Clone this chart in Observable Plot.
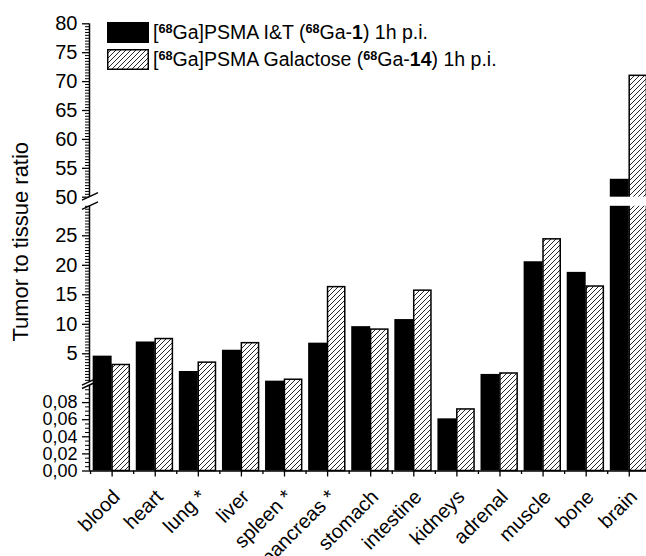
<!DOCTYPE html>
<html><head><meta charset="utf-8">
<script src="https://cdn.jsdelivr.net/npm/d3@7"></script>
<script src="https://cdn.jsdelivr.net/npm/@observablehq/plot@0.6"></script>
<style>
body{margin:0;background:#fff;font-family:"Liberation Sans",Arial,sans-serif;}
#wrap{position:relative;width:646px;height:556px;overflow:hidden;}
#legend{position:absolute;left:107px;top:19px;font-size:19.5px;color:#000;line-height:1;}
.row{display:flex;align-items:center;height:27px;white-space:nowrap;}
.sw{width:42px;height:21px;box-sizing:border-box;margin-right:4px;flex:none;}
sup{font-size:0.65em;font-weight:bold;vertical-align:0.5em;line-height:0}
</style></head><body>
<svg width="0" height="0" style="position:absolute">
<defs><pattern id="hatch" patternUnits="userSpaceOnUse" width="5" height="5"><path d="M-1,1 l2,-2 M0,5 l5,-5 M4,6 l2,-2" stroke="#000" stroke-width="0.85"/></pattern></defs></svg>
<div id="wrap">
</div>
<script>
// ---- data ----
const categories = ["blood","heart","lung *","liver","spleen *","pancreas *","stomach","intestine","kidneys","adrenal","muscle","bone","brain"];
const ga1  = [4.6, 7.0, 2.0, 5.6, 0.36, 6.8, 9.6, 10.8, 0.061, 1.5, 20.6, 18.8, 53.1];
const ga14 = [3.1, 7.5, 3.5, 6.8, 0.6, 16.3, 9.1, 15.7, 0.072, 1.66, 24.4, 16.4, 71.0];
const seriesNames = ["[68Ga]PSMA I&T (68Ga-1) 1h p.i.", "[68Ga]PSMA Galactose (68Ga-14) 1h p.i."];
const yLabelsTop = [50, 55, 60, 65, 70, 75, 80];
const yLabelsMid = [5, 10, 15, 20, 25];
const yLabelsLow = [0, 0.02, 0.04, 0.06, 0.08];
const axisSegments = [{y1: 0, y2: 0.1}, {y1: 0.2, y2: 30}, {y1: 50, y2: 80}];
const breakValues = [0.1, 0.2, 30, 50];
const gapBand = [{y1: 30, y2: 50}];

// ---- scales ----
const xDomain = [-0.525, 12.4];
const yDomain = [0, 0.1, 0.2, 30, 50, 80];
const yRange = [470.5, 385, 381.6, 205.8, 196.7, 23.3];

const minorTop = d3.range(100, 161).map(k => k / 2).filter(v => v % 5 !== 0);
const minorMid = d3.range(1, 61).map(k => k / 2).filter(v => v % 5 !== 0 || v === 30);
const minorLow = d3.range(0, 21).filter(k => k % 4 !== 0).map(k => k * 0.005);

const rows = categories.map((c, i) => ({c, i, a: ga1[i], b: ga14[i]}));
const fmt = v => v < 1 ? v.toFixed(2).replace(".", ",") : String(v);

function breakMarks(index, scales) {
  const g = d3.create("svg:g").attr("stroke", "black").attr("stroke-width", 1.4);
  const x0 = scales.x(xDomain[0]);
  for (const v of breakValues) {
    const y = scales.y(v);
    g.append("line").attr("x1", x0 - 7).attr("y1", y + 3.5).attr("x2", x0 + 9).attr("y2", y - 4);
  }
  return g.node();
}

const chart = Plot.plot({
  width: 646, height: 556,
  marginLeft: 89, marginRight: 0, marginTop: 12, marginBottom: 85.5,
  style: {fontFamily: "'Liberation Sans', Arial, sans-serif", fontSize: "20px", color: "black", background: "white"},
  x: {type: "linear", domain: xDomain, axis: null},
  y: {type: "linear", domain: yDomain, range: yRange, axis: null},
  marks: [
    Plot.rectY(rows, {x1: d => d.i - 0.44, x2: d => d.i, y: "a", fill: "black"}),
    Plot.rectY(rows, {x1: d => d.i + 0.01, x2: d => d.i + 0.41, y: "b", fill: "url(#hatch)", stroke: "black", strokeWidth: 1.5}),
    Plot.rect(gapBand, {x1: xDomain[0] + 0.03, x2: xDomain[1] + 1, y1: "y1", y2: "y2", fill: "white"}),
    Plot.ruleY([0], {strokeWidth: 1.5}),
    Plot.ruleX(axisSegments, {x: () => xDomain[0], y1: "y1", y2: "y2", strokeWidth: 1.5}),
    Plot.axisY({ticks: [...yLabelsTop, ...yLabelsMid], anchor: "left", tickSize: 7, tickPadding: 5, tickFormat: fmt, label: null, strokeWidth: 1.3, fontSize: 20}),
    Plot.axisY({ticks: yLabelsLow, anchor: "left", tickSize: 7, tickPadding: 5, tickFormat: fmt, label: null, strokeWidth: 1.3, fontSize: 18}),
    Plot.axisY({ticks: [...minorTop, ...minorMid, ...minorLow], anchor: "left", tickSize: 4, tickFormat: () => "", label: null, strokeWidth: 1}),
    Plot.axisX({ticks: d3.range(13), anchor: "bottom", tickSize: 6, tickFormat: () => "", label: null, strokeWidth: 1.3}),
    Plot.axisX({ticks: d3.range(-0.5, 12, 1), anchor: "bottom", tickSize: 3.5, tickFormat: () => "", label: null, strokeWidth: 1.3}),
    breakMarks,
    Plot.text(categories, {x: (d, i) => i, frameAnchor: "bottom", rotate: -45, textAnchor: "end", lineAnchor: "top", dx: -1, dy: 17, fontSize: 20, fill: "black"}),
    Plot.text(["Tumor to tissue ratio"], {frameAnchor: "left", rotate: -90, textAnchor: "middle", dx: -69, fontSize: 22, fill: "black"})
  ]
});

const wrap = document.getElementById("wrap");
wrap.appendChild(chart);

// legend overlay
const legend = document.createElement("div");
legend.id = "legend";
const supify = s => s.replace(/68Ga/g, "<sup>68</sup>Ga").replace(/Ga-(\d+)\)/, "Ga-<b>$1</b>)");
legend.innerHTML =
  `<div class="row"><div class="sw" style="background:#000"></div><span>${supify(seriesNames[0])}</span></div>` +
  `<div class="row"><svg class="sw" width="42" height="21"><rect x="0.75" y="0.75" width="40.5" height="19.5" fill="url(#hatch)" stroke="#000" stroke-width="1.5"/></svg><span>${supify(seriesNames[1])}</span></div>`;
wrap.appendChild(legend);
</script>
</body></html>
